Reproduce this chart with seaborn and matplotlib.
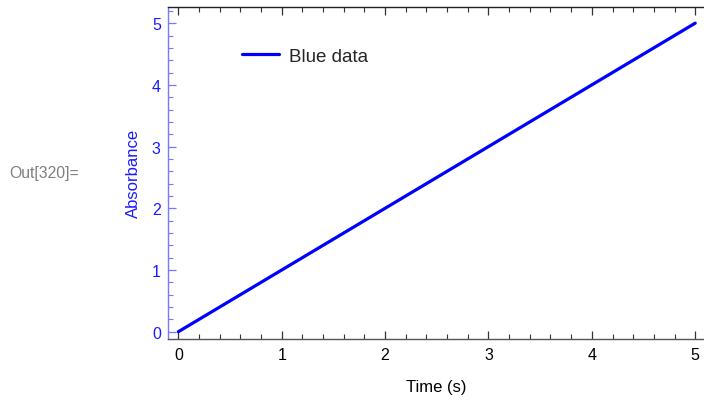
import matplotlib
matplotlib.use("Agg")
import matplotlib.pyplot as plt
from matplotlib.ticker import MultipleLocator
import seaborn as sns
import pandas as pd

time_s = [0, 1, 2, 3, 4, 5]
absorbance = [0, 1, 2, 3, 4, 5]
series_label = "Blue data"
x_ticks = [0, 1, 2, 3, 4, 5]
y_ticks = [0, 1, 2, 3, 4, 5]

sns.set_theme(style="white")
plt.rcParams['font.family'] = ['Liberation Sans', 'DejaVu Sans']

df = pd.DataFrame({"Time (s)": time_s, "Absorbance": absorbance, "series": series_label})

fig = plt.figure(figsize=(7.04, 4.02), dpi=100)
ax = fig.add_axes([167.7 / 704, 62 / 402, (704 - 167.7) / 704, (340 - 7.5) / 402])

sns.lineplot(data=df, x="Time (s)", y="Absorbance", hue="series",
             palette=["#0000ff"], linewidth=2.3, ax=ax)

ax.set_xlim(-0.103, 5.085)
ax.set_ylim(-0.118, 5.27)
ax.set_xticks(x_ticks)
ax.set_yticks(y_ticks)
ax.xaxis.set_minor_locator(MultipleLocator(0.2))
ax.yaxis.set_minor_locator(MultipleLocator(0.2))

blue_lbl = "#1a1aff"
ax.spines['right'].set_visible(False)
ax.spines['left'].set_color("#7777ff")
ax.spines['bottom'].set_color("#555555")
ax.spines['top'].set_color("#222222")
for s in ax.spines.values():
    s.set_linewidth(1.0)

ax.tick_params(axis='x', which='both', direction='in', top=True, bottom=True,
               colors="#333333", labelcolor="black", labelsize=11.5, pad=6)
ax.tick_params(axis='x', which='major', length=6, width=0.9)
ax.tick_params(axis='x', which='minor', length=3.5, width=0.8)
ax.tick_params(axis='y', which='both', direction='in', left=True, right=False,
               colors="#7777ff", labelcolor=blue_lbl, labelsize=11.5, pad=5)
ax.tick_params(axis='y', which='major', length=6, width=0.9)
ax.tick_params(axis='y', which='minor', length=3.5, width=0.8)

ax.set_xlabel("Time (s)", fontsize=12, color="black", labelpad=12)
ax.set_ylabel("Absorbance", fontsize=12, color=blue_lbl, labelpad=8)

leg = ax.legend(loc="center left", bbox_to_anchor=(0.1385, 0.851), frameon=False,
                fontsize=13.5, handlelength=2.0, handletextpad=0.5,
                borderpad=0, borderaxespad=0)
leg.set_title(None)

fig.text(9 / 704, 1 - 174 / 402, "Out[320]=", color="#808080", fontsize=11.3,
         va="center", ha="left")

fig.savefig("out.png", dpi=100)
